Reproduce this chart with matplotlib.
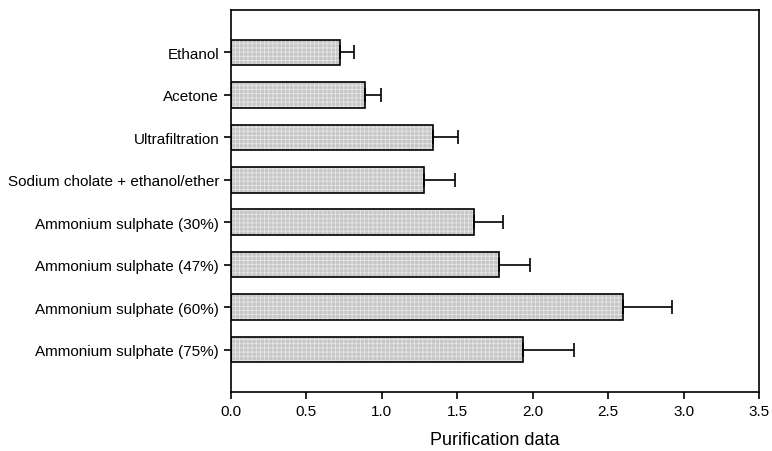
import matplotlib.pyplot as plt

methods = [
    "Ethanol",
    "Acetone",
    "Ultrafiltration",
    "Sodium cholate + ethanol/ether",
    "Ammonium sulphate (30%)",
    "Ammonium sulphate (47%)",
    "Ammonium sulphate (60%)",
    "Ammonium sulphate (75%)",
]
values = [0.72, 0.886, 1.339, 1.277, 1.612, 1.774, 2.596, 1.937]
errors = [0.095, 0.108, 0.165, 0.209, 0.19, 0.207, 0.329, 0.336]
x_ticks = [0.0, 0.5, 1.0, 1.5, 2.0, 2.5, 3.0, 3.5]

plt.rcParams["font.family"] = ["Liberation Sans", "DejaVu Sans"]
plt.rcParams["hatch.linewidth"] = 0.6

fig = plt.figure(figsize=(7.72, 4.52), dpi=100)
ax = fig.add_axes([231 / 772, 1 - 393 / 452, (759 - 231) / 772, (393 - 11) / 452])

pos = list(range(len(methods)))

# fill with fine light grid texture, then outline in black
ax.barh(pos, values, height=0.6, color="#c6c6c6", edgecolor="#e6e6e6",
        hatch="++++", linewidth=0, zorder=2)
ax.barh(pos, values, height=0.6, fill=False, edgecolor="black",
        linewidth=1.2, zorder=3)
ax.errorbar(values, pos, xerr=[[0] * len(errors), errors], fmt="none",
            ecolor="black", elinewidth=1.2, capsize=5, capthick=1.2, zorder=4)

ax.set_xlim(0, 3.5)
ax.set_ylim(len(methods), -1)
ax.set_xticks(x_ticks)
ax.set_xticklabels([f"{t:.1f}" for t in x_ticks])
ax.set_yticks(pos)
ax.set_yticklabels(methods)
ax.tick_params(axis="both", direction="out", length=5, width=1.2, labelsize=11)
ax.tick_params(axis="x", pad=4)
for s in ax.spines.values():
    s.set_linewidth(1.2)

ax.set_xlabel("Purification data", fontsize=13, labelpad=9)

plt.savefig("out.png", dpi=100)
plt.close()
